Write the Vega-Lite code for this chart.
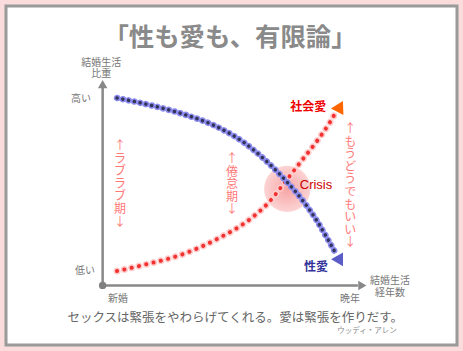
{
  "$schema": "https://vega.github.io/schema/vega-lite/v6.json",
  "width": 463,
  "height": 351,
  "autosize": {"type": "fit", "contains": "padding"},
  "padding": 6,
  "background": "#fbdcdc",
  "config": {
    "view": {"fill": "white", "stroke": "#9a9a9a", "strokeWidth": 3},
    "font": "Noto Sans CJK JP"
  },
  "datasets": {
    "eros": [
      {"x": 5.8, "y": 100.6}, {"x": 19.1, "y": 96.8}, {"x": 32.4, "y": 92.0},
      {"x": 44.6, "y": 86.1}, {"x": 56.7, "y": 77.0}, {"x": 65.6, "y": 67.3},
      {"x": 74.4, "y": 55.5}, {"x": 80.9, "y": 45.3}, {"x": 86.5, "y": 34.6},
      {"x": 91.0, "y": 24.4}, {"x": 94.2, "y": 16.9}
    ],
    "social": [
      {"x": 5.8, "y": 7.7}, {"x": 16.3, "y": 10.9}, {"x": 33.7, "y": 17.4},
      {"x": 46.2, "y": 24.9}, {"x": 59.5, "y": 35.6}, {"x": 66.8, "y": 44.2},
      {"x": 73.6, "y": 55.5}, {"x": 80.5, "y": 67.3}, {"x": 86.5, "y": 77.5},
      {"x": 91.8, "y": 87.7}, {"x": 94.6, "y": 94.2}
    ],
    "axes": [
      {"x": 0, "y": 0, "x2": 0, "y2": 106},
      {"x": 0, "y": 0, "x2": 103, "y2": 0}
    ],
    "crisis": [{"x": 74.5, "y": 51.8}],
    "origin": [{"x": 0, "y": 0}],
    "yhead": [{"x": 0, "y": 108}],
    "xhead": [{"x": 104.8, "y": 0}],
    "sochead": [{"x": 95.8, "y": 96.1}],
    "eroshead": [{"x": 95.8, "y": 13.1}],
    "labels": [
      {"kind": "title", "t": "「性も愛も、有限論」", "x": 51.4, "y": 132.8},
      {"kind": "axis2", "t": "結婚生活\n比重", "x": -0.6, "y": 122.1},
      {"kind": "axis2", "t": "結婚生活\n経年数", "x": 116.0, "y": 5.0},
      {"kind": "axis", "t": "新婚", "x": 6.2, "y": -7.3},
      {"kind": "axis", "t": "晩年", "x": 99.8, "y": -7.3},
      {"kind": "axisr", "t": "高い", "x": -4.7, "y": 100.1},
      {"kind": "axisr", "t": "低い", "x": -3.1, "y": 7.7},
      {"kind": "quote", "t": "セックスは緊張をやわらげてくれる。愛は緊張を作りだす。", "x": 53.5, "y": -17.5},
      {"kind": "author", "t": "ウッディ・アレン", "x": 106.7, "y": -24.5},
      {"kind": "social", "t": "社会愛", "x": 83.0, "y": 95.8},
      {"kind": "eros", "t": "性愛", "x": 86.1, "y": 9.9},
      {"kind": "crisis", "t": "Crisis", "x": 86.1, "y": 53.9},
      {"kind": "phase", "t": "↑\nラ\nブ\nラ\nブ\n期\n↓", "x": 7.0, "y": 77.5},
      {"kind": "phase", "t": "↑\n倦\n怠\n期\n↓", "x": 52.2, "y": 70.5},
      {"kind": "phase", "t": "↑\nも\nう\nど\nう\nで\nも\nい\nい\n↓", "x": 99.9, "y": 86.6}
    ]
  },
  "encoding": {
    "x": {"field": "x", "type": "quantitative", "scale": {"domain": [-39, 143], "nice": false, "zero": false}, "axis": null},
    "y": {"field": "y", "type": "quantitative", "scale": {"domain": [-32, 150], "nice": false, "zero": false}, "axis": null}
  },
  "layer": [
    {
      "data": {"name": "crisis"},
      "mark": {"type": "point", "shape": "circle", "filled": true, "size": 2150, "opacity": 1,
        "color": {"gradient": "radial", "x1": 0.5, "y1": 0.5, "r1": 0, "x2": 0.5, "y2": 0.5, "r2": 0.5,
          "stops": [{"offset": 0, "color": "#f8a4a4"}, {"offset": 1, "color": "#fcd4d4"}]}}
    },
    {
      "data": {"name": "axes"},
      "mark": {"type": "rule", "color": "#888888", "strokeWidth": 2.5},
      "encoding": {"x2": {"field": "x2"}, "y2": {"field": "y2"}}
    },
    {
      "data": {"name": "yhead"},
      "mark": {"type": "point", "shape": "triangle-up", "filled": true, "color": "#888888", "size": 90, "opacity": 1}
    },
    {
      "data": {"name": "xhead"},
      "mark": {"type": "point", "shape": "triangle-right", "filled": true, "color": "#888888", "size": 90, "opacity": 1}
    },
    {
      "data": {"name": "origin"},
      "mark": {"type": "point", "shape": "circle", "filled": true, "color": "#808080", "size": 55, "opacity": 1}
    },
    {
      "data": {"name": "social"},
      "mark": {"type": "line", "interpolate": "monotone", "stroke": "#ffcccc", "strokeWidth": 7, "strokeDash": [0.1, 7.4], "strokeCap": "round"}
    },
    {
      "data": {"name": "social"},
      "mark": {"type": "line", "interpolate": "monotone", "stroke": "#f23030", "strokeWidth": 4, "strokeDash": [0.1, 7.4], "strokeCap": "round"}
    },
    {
      "data": {"name": "eros"},
      "mark": {"type": "line", "interpolate": "monotone", "stroke": "#8c8cf0", "strokeWidth": 6.5, "strokeDash": [0.1, 5.8], "strokeCap": "round"}
    },
    {
      "data": {"name": "eros"},
      "mark": {"type": "line", "interpolate": "monotone", "stroke": "#333355", "strokeWidth": 3.5, "strokeDash": [0.1, 5.8], "strokeCap": "round"}
    },
    {
      "data": {"name": "sochead"},
      "mark": {"type": "point", "shape": "triangle-up", "filled": true, "color": "#ff6600", "size": 200, "angle": 28, "opacity": 1}
    },
    {
      "data": {"name": "eroshead"},
      "mark": {"type": "point", "shape": "triangle-up", "filled": true, "color": "#5c5cc8", "size": 190, "angle": 150, "opacity": 1}
    },
    {
      "data": {"name": "labels"},
      "transform": [{"filter": "datum.kind === 'title'"}],
      "mark": {"type": "text", "fontSize": 25.4, "fontWeight": "bold", "color": "#8a8a8a", "align": "center", "baseline": "middle"},
      "encoding": {"text": {"field": "t"}}
    },
    {
      "data": {"name": "labels"},
      "transform": [{"filter": "datum.kind === 'axis2'"}],
      "mark": {"type": "text", "fontSize": 10, "color": "#777777", "align": "center", "baseline": "top", "lineBreak": "\n", "lineHeight": 11.5},
      "encoding": {"text": {"field": "t"}}
    },
    {
      "data": {"name": "labels"},
      "transform": [{"filter": "datum.kind === 'axis'"}],
      "mark": {"type": "text", "fontSize": 10, "color": "#777777", "align": "center", "baseline": "middle"},
      "encoding": {"text": {"field": "t"}}
    },
    {
      "data": {"name": "labels"},
      "transform": [{"filter": "datum.kind === 'axisr'"}],
      "mark": {"type": "text", "fontSize": 10, "color": "#777777", "align": "right", "baseline": "middle"},
      "encoding": {"text": {"field": "t"}}
    },
    {
      "data": {"name": "labels"},
      "transform": [{"filter": "datum.kind === 'quote'"}],
      "mark": {"type": "text", "fontSize": 12.5, "color": "#666666", "align": "center", "baseline": "middle"},
      "encoding": {"text": {"field": "t"}}
    },
    {
      "data": {"name": "labels"},
      "transform": [{"filter": "datum.kind === 'author'"}],
      "mark": {"type": "text", "fontSize": 7.5, "color": "#888888", "align": "center", "baseline": "middle"},
      "encoding": {"text": {"field": "t"}}
    },
    {
      "data": {"name": "labels"},
      "transform": [{"filter": "datum.kind === 'social'"}],
      "mark": {"type": "text", "fontSize": 12, "fontWeight": "bold", "color": "#ee0000", "align": "center", "baseline": "middle"},
      "encoding": {"text": {"field": "t"}}
    },
    {
      "data": {"name": "labels"},
      "transform": [{"filter": "datum.kind === 'eros'"}],
      "mark": {"type": "text", "fontSize": 12, "fontWeight": "bold", "color": "#333399", "align": "center", "baseline": "middle"},
      "encoding": {"text": {"field": "t"}}
    },
    {
      "data": {"name": "labels"},
      "transform": [{"filter": "datum.kind === 'crisis'"}],
      "mark": {"type": "text", "fontSize": 13, "font": "Liberation Sans", "color": "#cc0000", "align": "center", "baseline": "middle"},
      "encoding": {"text": {"field": "t"}}
    },
    {
      "data": {"name": "labels"},
      "transform": [{"filter": "datum.kind === 'phase'"}],
      "mark": {"type": "text", "fontSize": 12, "color": "#ff7777", "align": "center", "baseline": "top", "lineBreak": "\n", "lineHeight": 12.6},
      "encoding": {"text": {"field": "t"}}
    }
  ]
}
